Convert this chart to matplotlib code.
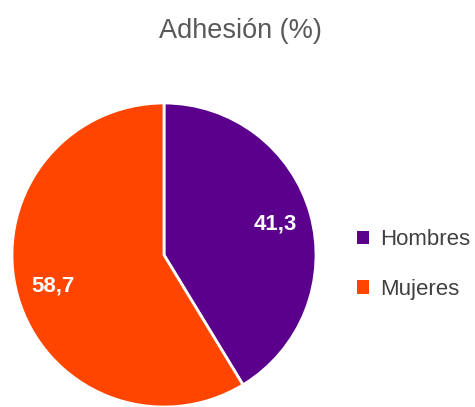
import numpy as np
import matplotlib
matplotlib.use("Agg")
import matplotlib.pyplot as plt
from matplotlib.patches import Patch

categorias = ["Hombres", "Mujeres"]
valores = [41.3, 58.7]
colores = ["#5a008c", "#ff4500"]
titulo = "Adhesión (%)"

plt.rcParams["font.family"] = ["Liberation Sans", "DejaVu Sans"]

fig = plt.figure(figsize=(4.75, 4.07), dpi=100)
ax = fig.add_axes([12/475, 0.0, 304/475, 304/407])
wedges, _, autotexts = ax.pie(valores, colors=colores, startangle=90, counterclock=False,
                              wedgeprops=dict(edgecolor="white", linewidth=2),
                              autopct=lambda p: f"{p:.1f}".replace(".", ","),
                              pctdistance=0.76)
for t in autotexts:
    t.set_color("white"); t.set_fontsize(16); t.set_fontweight("bold")
ax.set_aspect("equal")
ax.set_xlim(-1, 1); ax.set_ylim(-1, 1)

fig.text(0.507, 0.925, titulo, ha="center", va="center", fontsize=19.5, color="#595959")

handles = [Patch(facecolor=c, edgecolor="none") for c in colores]
fig.legend(handles, categorias, loc="center left", bbox_to_anchor=(0.71, 0.35),
           frameon=False, fontsize=16, handlelength=0.55, handleheight=0.55,
           handletextpad=0.5, labelspacing=1.3, labelcolor="#404040")

fig.savefig("out.png", dpi=100)
